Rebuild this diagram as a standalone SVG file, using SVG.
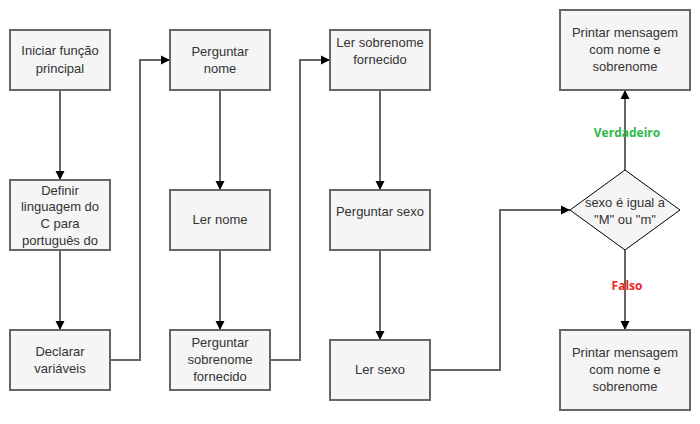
<svg xmlns="http://www.w3.org/2000/svg" width="700" height="424" viewBox="0 0 700 424">
<style>
.box{fill:#f5f5f5;stroke:#666666;stroke-width:2}
.dia{fill:#f5f5f5;stroke:#000000;stroke-width:1}
.t{font-family:"Liberation Sans",Arial,sans-serif;font-size:13px;fill:#333333;text-anchor:middle}
.c{fill:none;stroke:#666666;stroke-width:2}
.lbl{font-family:"Open Sans","Noto Sans",sans-serif;font-size:12px;font-weight:bold;text-anchor:middle}
</style>
<defs>
<marker id="arr" markerWidth="12" markerHeight="12" refX="10" refY="6" orient="auto" markerUnits="userSpaceOnUse">
<path d="M1,1.5 L10,6 L1,10.5 Z" fill="#000000"/>
</marker>
</defs>
<rect width="700" height="424" fill="#ffffff"/>
<g id="connectors">
<path class="c" d="M60,90 V180" marker-end="url(#arr)"/>
<path class="c" d="M60,250 V330" marker-end="url(#arr)"/>
<path class="c" d="M110,360 H140 V60 H170" marker-end="url(#arr)"/>
<path class="c" d="M220,90 V190" marker-end="url(#arr)"/>
<path class="c" d="M220,250 V330" marker-end="url(#arr)"/>
<path class="c" d="M270,360 H300 V60 H330" marker-end="url(#arr)"/>
<path class="c" d="M380,90 V190" marker-end="url(#arr)"/>
<path class="c" d="M380,250 V340" marker-end="url(#arr)"/>
<path class="c" d="M430,370 H500 V210 H570" marker-end="url(#arr)"/>
<path class="c" d="M625,170 V90" marker-end="url(#arr)"/>
<path class="c" d="M625,250 V330" marker-end="url(#arr)"/>
<text class="lbl" x="627" y="137" fill="#2DB84B">Verdadeiro</text>
<text class="lbl" x="627" y="290" fill="#EE2222">Falso</text>
</g>
<g id="n1"><rect class="box" x="10" y="30" width="100" height="60"/>
<text class="t" x="60" y="55">Iniciar função</text><text class="t" x="60" y="73">principal</text></g>
<g id="n2"><rect class="box" x="10" y="180" width="100" height="70"/>
<text class="t" x="60" y="195">Definir</text><text class="t" x="60" y="211">linguagem do</text><text class="t" x="60" y="228">C para</text><text class="t" x="60" y="245">português do</text></g>
<g id="n3"><rect class="box" x="10" y="330" width="100" height="60"/>
<text class="t" x="60" y="356">Declarar</text><text class="t" x="60" y="373">variáveis</text></g>
<g id="n4"><rect class="box" x="170" y="30" width="100" height="60"/>
<text class="t" x="220" y="56">Perguntar</text><text class="t" x="220" y="73">nome</text></g>
<g id="n5"><rect class="box" x="170" y="190" width="100" height="60"/>
<text class="t" x="220" y="224">Ler nome</text></g>
<g id="n6"><rect class="box" x="170" y="330" width="100" height="60"/>
<text class="t" x="220" y="347">Perguntar</text><text class="t" x="220" y="364">sobrenome</text><text class="t" x="220" y="381">fornecido</text></g>
<g id="n7"><rect class="box" x="330" y="30" width="100" height="60"/>
<text class="t" x="380" y="47">Ler sobrenome</text><text class="t" x="380" y="64">fornecido</text></g>
<g id="n8"><rect class="box" x="330" y="190" width="100" height="60"/>
<text class="t" x="380" y="216">Perguntar sexo</text></g>
<g id="n9"><rect class="box" x="330" y="340" width="100" height="60"/>
<text class="t" x="380" y="374">Ler sexo</text></g>
<g id="n10"><path class="dia" d="M625,170 L680,210 L625,250 L570,210 Z"/>
<text class="t" x="625" y="207">sexo é igual a</text><text class="t" x="625" y="224">"M" ou "m"</text></g>
<g id="n11"><rect class="box" x="560" y="10" width="130" height="80"/>
<text class="t" x="625" y="37">Printar mensagem</text><text class="t" x="625" y="54">com nome e</text><text class="t" x="625" y="71">sobrenome</text></g>
<g id="n12"><rect class="box" x="560" y="330" width="130" height="80"/>
<text class="t" x="625" y="357">Printar mensagem</text><text class="t" x="625" y="374">com nome e</text><text class="t" x="625" y="391">sobrenome</text></g>
</svg>
